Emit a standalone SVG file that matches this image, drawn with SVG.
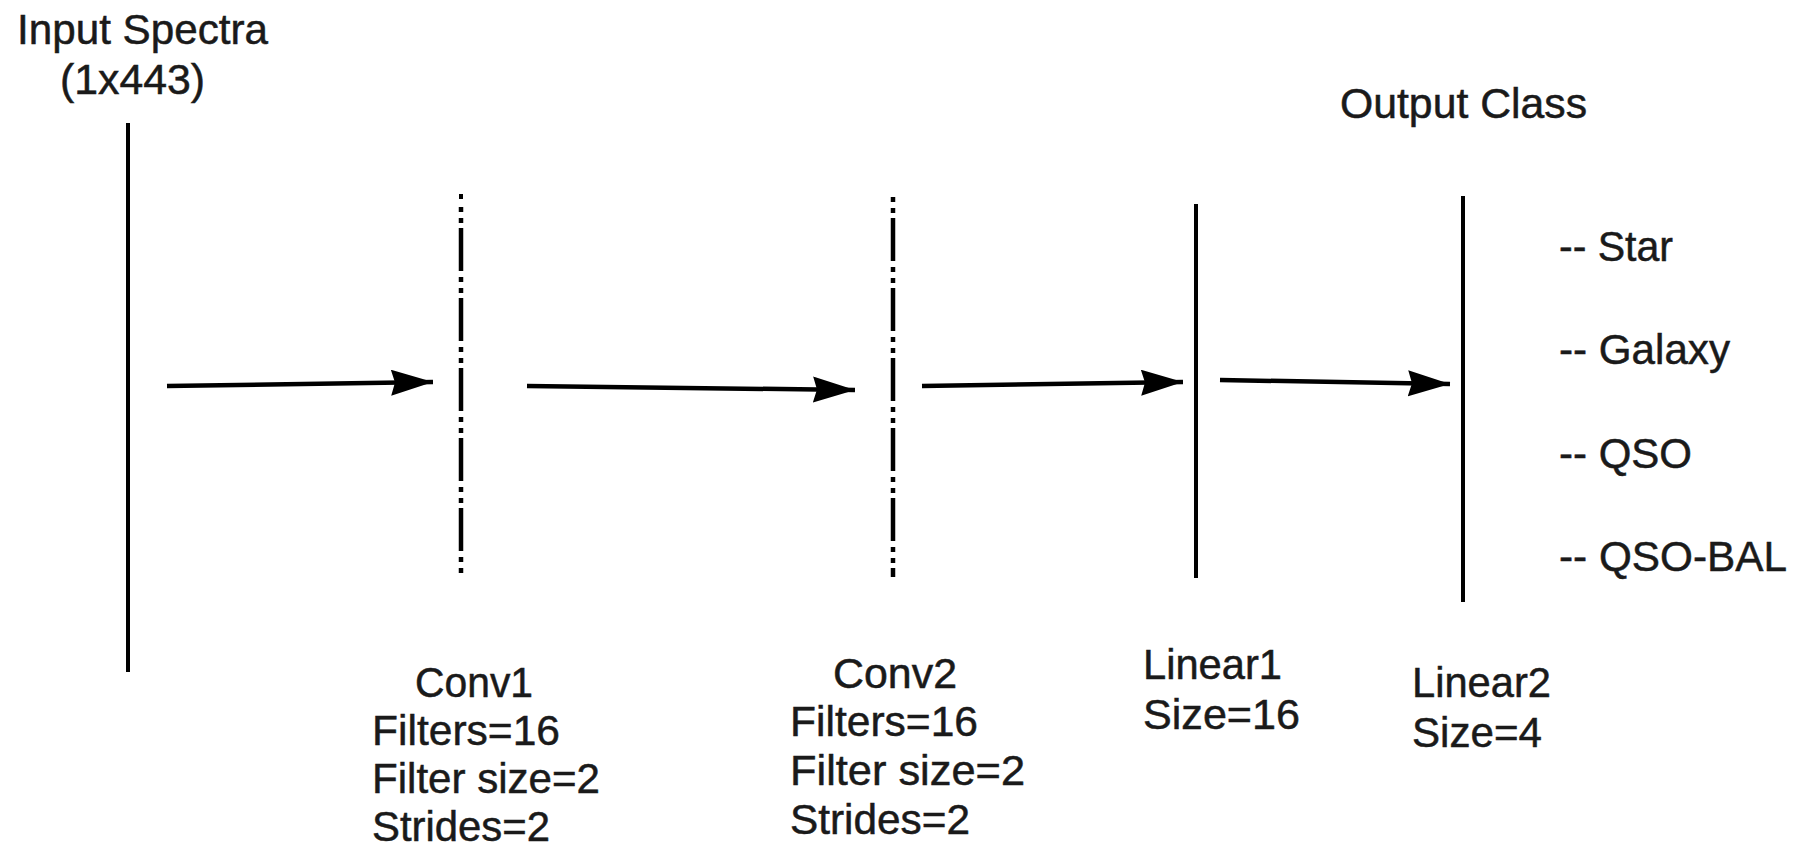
<svg xmlns="http://www.w3.org/2000/svg" width="1800" height="850" viewBox="0 0 1800 850">
  <style>
    text { font-family: "Liberation Sans", Arial, sans-serif; font-size: 42px; fill: #1a1a1a; stroke: #1a1a1a; stroke-width: 0.5; }
    .solid { stroke: #000; stroke-width: 4; fill: none; }
    .dashdot { stroke: #000; stroke-width: 4.5; fill: none; stroke-dasharray: 43 6 5 6 5 5; }
    .arrow { stroke: #000; stroke-width: 4.5; fill: none; marker-end: url(#head); }
  </style>
  <defs>
    <marker id="head" markerUnits="userSpaceOnUse" markerWidth="46" markerHeight="28" refX="42" refY="13" orient="auto">
      <path d="M0,0 L42,13 L0,26 L4,13 Z" fill="#000"/>
    </marker>
  </defs>
  <rect width="1800" height="850" fill="#fff"/>

  <g id="input">
    <text x="17" y="44" textLength="251" lengthAdjust="spacingAndGlyphs">Input Spectra</text>
    <text x="60" y="94" textLength="145" lengthAdjust="spacingAndGlyphs">(1x443)</text>
    <line class="solid" x1="128" y1="123" x2="128" y2="672"/>
  </g>

  <g id="conv1">
    <line class="solid" x1="461" y1="194" x2="461" y2="199" stroke-width="4.5"/>
    <line class="dashdot" x1="461" y1="207" x2="461" y2="575" stroke-dashoffset="49"/>
    <text x="415" y="697" textLength="118" lengthAdjust="spacingAndGlyphs">Conv1</text>
    <text x="372" y="745" textLength="188" lengthAdjust="spacingAndGlyphs">Filters=16</text>
    <text x="372" y="793" textLength="228" lengthAdjust="spacingAndGlyphs">Filter size=2</text>
    <text x="372" y="841" textLength="178" lengthAdjust="spacingAndGlyphs">Strides=2</text>
  </g>

  <g id="conv2">
    <line class="dashdot" x1="893" y1="196" x2="893" y2="577" stroke-dashoffset="48"/>
    <text x="833" y="688" textLength="124" lengthAdjust="spacingAndGlyphs">Conv2</text>
    <text x="790" y="736" textLength="188" lengthAdjust="spacingAndGlyphs">Filters=16</text>
    <text x="790" y="785" textLength="235" lengthAdjust="spacingAndGlyphs">Filter size=2</text>
    <text x="790" y="834" textLength="180" lengthAdjust="spacingAndGlyphs">Strides=2</text>
  </g>

  <g id="linear1">
    <line class="solid" x1="1196" y1="204" x2="1196" y2="578"/>
    <text x="1143" y="679" textLength="139" lengthAdjust="spacingAndGlyphs">Linear1</text>
    <text x="1143" y="729" textLength="157" lengthAdjust="spacingAndGlyphs">Size=16</text>
  </g>

  <g id="linear2">
    <line class="solid" x1="1463" y1="196" x2="1463" y2="602"/>
    <text x="1412" y="697" textLength="139" lengthAdjust="spacingAndGlyphs">Linear2</text>
    <text x="1412" y="747" textLength="130" lengthAdjust="spacingAndGlyphs">Size=4</text>
  </g>

  <g id="output">
    <text x="1340" y="118" textLength="247" lengthAdjust="spacingAndGlyphs">Output Class</text>
    <text x="1559" y="261" textLength="114" lengthAdjust="spacingAndGlyphs">-- Star</text>
    <text x="1559" y="364" textLength="171" lengthAdjust="spacingAndGlyphs">-- Galaxy</text>
    <text x="1559" y="468" textLength="133" lengthAdjust="spacingAndGlyphs">-- QSO</text>
    <text x="1559" y="571" textLength="228" lengthAdjust="spacingAndGlyphs">-- QSO-BAL</text>
  </g>

  <g id="connectors">
    <line class="arrow" x1="167" y1="386" x2="433" y2="382"/>
    <line class="arrow" x1="527" y1="386" x2="855" y2="390"/>
    <line class="arrow" x1="922" y1="386" x2="1183" y2="382"/>
    <line class="arrow" x1="1220" y1="380" x2="1450" y2="384"/>
  </g>
</svg>
